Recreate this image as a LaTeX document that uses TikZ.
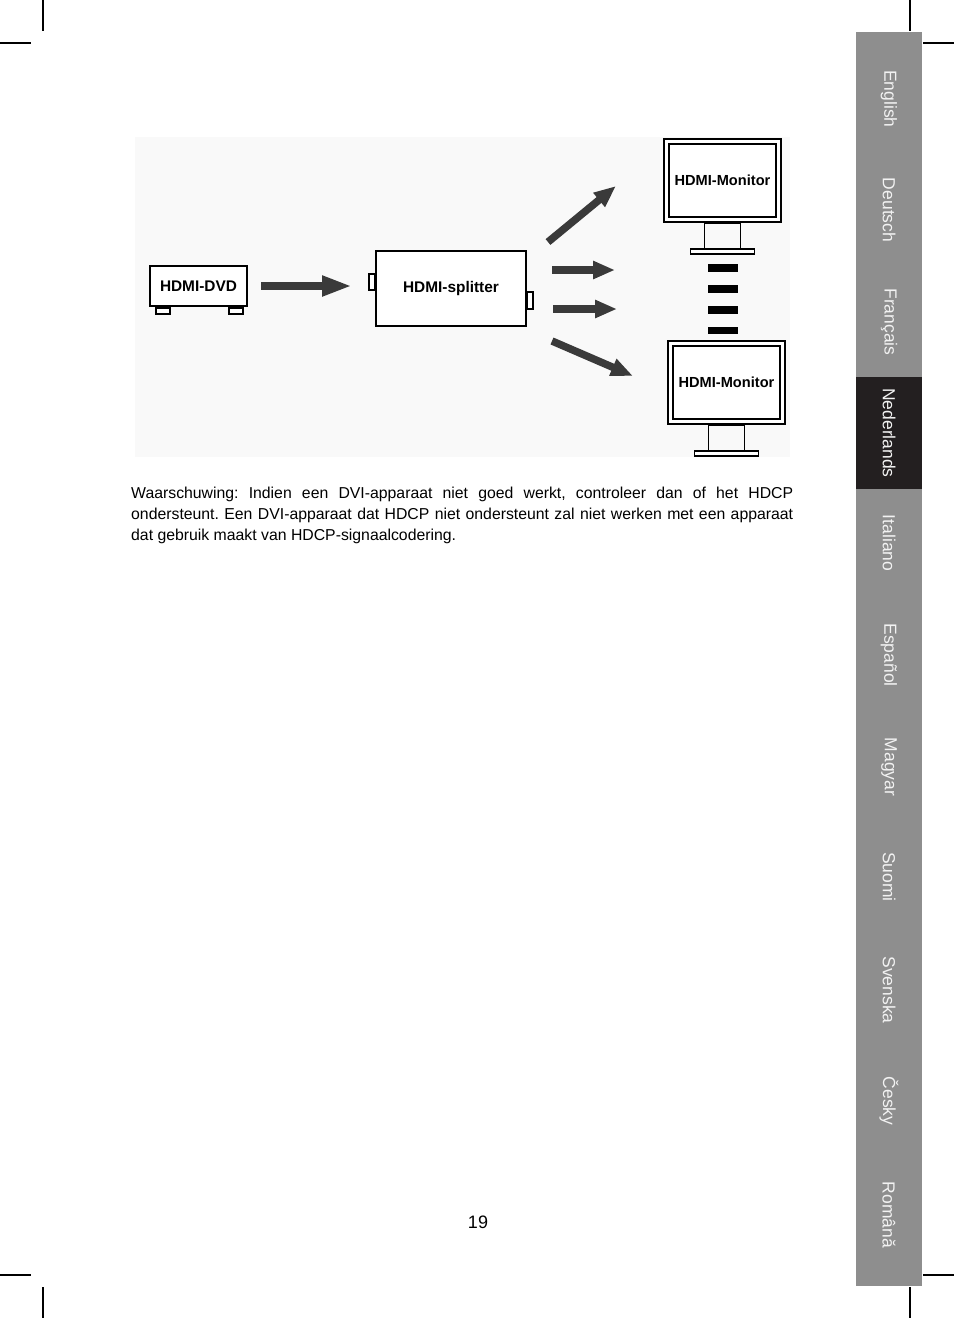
\documentclass[tikz,border=0pt]{standalone}
\usepackage{fontspec}
\setmainfont{Liberation Sans}
\usetikzlibrary{arrows.meta}
\definecolor{tabgray}{HTML}{8E8E8E}
\definecolor{tabdark}{HTML}{231F20}
\definecolor{arrowgray}{HTML}{3A3A3A}
\definecolor{diagbg}{HTML}{F9F9F9}
\definecolor{tabtext}{HTML}{F2F2F2}
\tikzset{
  devbox/.style={draw, line width=2pt, fill=white, inner sep=0pt, font=\bfseries\fontsize{15.4}{18}\selectfont},
  monbox/.style={draw, line width=2pt, fill=white, inner sep=0pt, minimum width=117pt, minimum height=83pt, font=\bfseries\fontsize{14.6}{17}\selectfont},
  fatbig/.style={draw=arrowgray, line width=8pt, -{Triangle[length=30pt,width=19pt]}},
  fatsmall/.style={draw=arrowgray, line width=7.5pt, -{Triangle[length=22pt,width=17pt]}},
  cropmark/.style={line width=1.2pt},
  tablabel/.style={rotate=-90, text=tabtext, font=\fontsize{17.5}{20}\selectfont, inner sep=0pt},
  gapbar/.style={fill=black},
  plug/.style={draw, line width=1.5pt, fill=white},
}
\begin{document}
\frenchspacing
\begin{tikzpicture}[x=1pt,y=-1pt]
\useasboundingbox (0,0) rectangle (954,1318);
% crop marks
\draw[cropmark] (43,0) -- (43,31) (0,43) -- (31,43);
\draw[cropmark] (910,0) -- (910,31) (923,43) -- (954,43);
\draw[cropmark] (43,1287) -- (43,1318) (0,1275) -- (31,1275);
\draw[cropmark] (910,1287) -- (910,1318) (923,1275) -- (954,1275);
% side bar
\fill[tabgray] (856,32) rectangle (922,1286);
\fill[tabdark] (856,377) rectangle (922,489);
\node[tablabel] (tEN) at (889,99) {English};
\node[tablabel] (tDE) at (889,210) {Deutsch};
\node[tablabel] (tFR) at (889,322) {Français};
\node[tablabel] (tNL) at (889,433) {Nederlands};
\node[tablabel] (tIT) at (889,543) {Italiano};
\node[tablabel] (tES) at (889,655) {Español};
\node[tablabel] (tHU) at (889,767) {Magyar};
\node[tablabel] (tFI) at (889,877) {Suomi};
\node[tablabel] (tSE) at (889,990) {Svenska};
\node[tablabel] (tCZ) at (889,1101) {Česky};
\node[tablabel] (tRO) at (889,1215) {Română};
% diagram background
\fill[diagbg] (135,137) rectangle (790,457);
% DVD
\node[devbox, minimum width=97pt, minimum height=40pt] (dvd) at (198.5,286) {HDMI-DVD};
\draw[plug] ([xshift=7pt]dvd.south west) ++(0,1) rectangle ++(14,6);
\draw[plug] ([xshift=-19pt]dvd.south east) ++(0,1) rectangle ++(14,6);
% splitter
\node[devbox, minimum width=150pt, minimum height=75pt] (spl) at (451,288.5) {HDMI-splitter};
\draw[plug] (spl.north west) ++(-6,24) rectangle ++(6,16);
\draw[plug] (spl.north east) ++(0,42) rectangle ++(6,17);
% monitors
\node[monbox] (mon1) at (722.5,180.5) {HDMI-Monitor};
\draw[line width=1.5pt] ([shift={(6,6)}]mon1.north west) rectangle ([shift={(-6,-6)}]mon1.south east);
\draw[line width=1.8pt] ([xshift=-18pt]mon1.south) rectangle ++(36,26);
\draw[line width=1.5pt, fill=white] ([xshift=-32pt,yshift=-26pt]mon1.south) rectangle ++(64,5);
\node[monbox] (mon2) at (726.5,382.5) {HDMI-Monitor};
\draw[line width=1.5pt] ([shift={(6,6)}]mon2.north west) rectangle ([shift={(-6,-6)}]mon2.south east);
\draw[line width=1.8pt] ([xshift=-18pt]mon2.south) rectangle ++(36,26);
\draw[line width=1.5pt, fill=white] ([xshift=-32pt,yshift=-26pt]mon2.south) rectangle ++(64,5);
% dashes between monitors
\fill[gapbar] (708,264) rectangle (738,272);
\fill[gapbar] (708,285) rectangle (738,293);
\fill[gapbar] (708,306) rectangle (738,314);
\fill[gapbar] (708,327) rectangle (738,334);
% arrows
\coordinate (a1s) at (261,286);
\coordinate (a1e) at (352,286);
\draw[fatbig] (a1s) -- (a1e);
\coordinate (a2s) at (548,242);
\coordinate (a2e) at (616,186);
\draw[fatsmall] (a2s) -- (a2e);
\coordinate (a3s) at (552,270);
\coordinate (a3e) at (615,270);
\draw[fatsmall] (a3s) -- (a3e);
\coordinate (a4s) at (553,309);
\coordinate (a4e) at (617,309);
\draw[fatsmall] (a4s) -- (a4e);
\coordinate (a5s) at (552,341);
\coordinate (a5e) at (633,376);
\draw[fatsmall] (a5s) -- (a5e);
% text
\node[anchor=north west, inner sep=0pt, text width=662pt, align=justify, font=\fontsize{15.8}{21}\selectfont] (warn) at (131,487)
{Waarschuwing: Indien een DVI-apparaat niet goed werkt, controleer dan of het HDCP\linebreak ondersteunt. Een DVI-apparaat dat HDCP niet ondersteunt zal niet werken met een apparaat\linebreak dat gebruik maakt van HDCP-signaalcodering.};
\node[font=\fontsize{18}{20}\selectfont, inner sep=0pt] (pnum) at (478,1222) {19};
\end{tikzpicture}
\end{document}
